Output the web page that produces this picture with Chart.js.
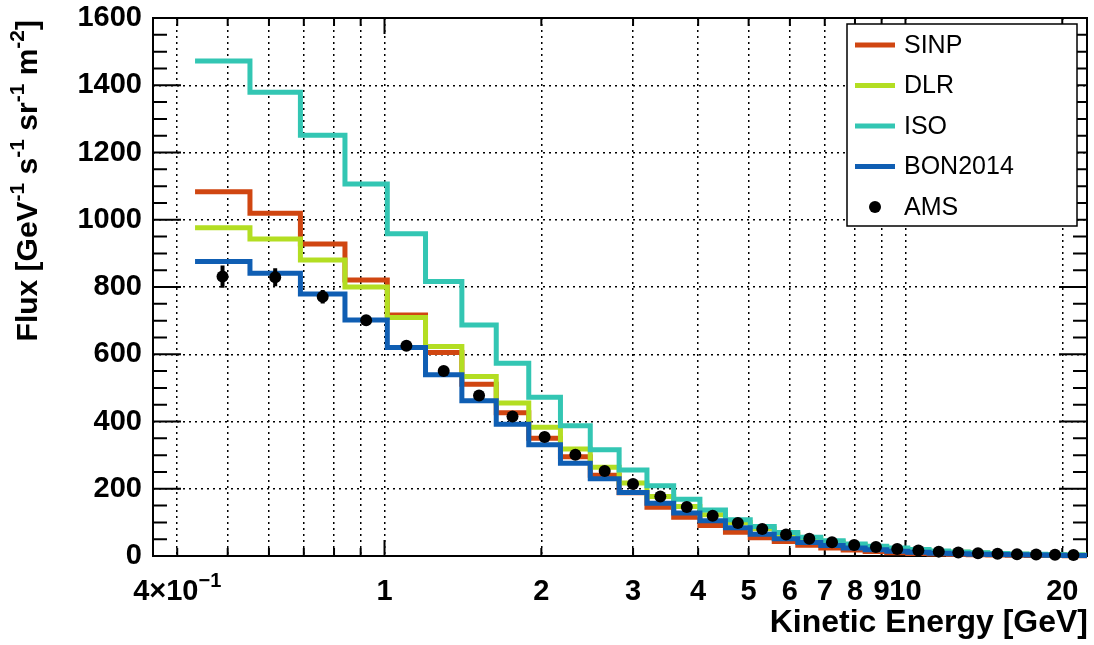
<!DOCTYPE html>
<html>
<head>
<meta charset="utf-8">
<script src="https://cdn.jsdelivr.net/npm/chart.js@4.4.1/dist/chart.umd.min.js"></script>
<style>
  html, body { margin: 0; padding: 0; background: #fff; }
  canvas { display: block; }
</style>
</head>
<body>
<canvas id="fluxChart" width="1094" height="645"></canvas>
<script>
// --- bin edges, kinetic energy [GeV] ---
const binEdges = [0.4328, 0.5517, 0.6895, 0.8396, 1.0124, 1.1987, 1.4076, 1.6386, 1.8918, 2.1764,
  2.4829, 2.8207, 3.1898, 3.5900, 4.0311, 4.5131, 5.0358, 5.5994, 6.2135, 6.8782, 7.5935, 8.3691,
  9.2052, 10.102, 11.098, 12.096, 13.193, 14.390, 15.688, 17.086, 18.584, 20.183, 21.881, 23.780];

// --- model fluxes, one value per bin ---
const sinpFlux = [1083, 1019, 928, 821, 717, 605, 511, 426, 350, 295, 240, 188, 145, 115, 91, 71, 54,
  43, 32, 24, 18, 13.5, 10, 7.7, 6, 4.6, 3.6, 2.8, 2.2, 1.7, 1.4, 1.1, 0.9];
const dlrFlux = [976, 943, 880, 800, 709, 623, 534, 455, 383, 318, 264, 217, 177, 147, 123, 100, 81,
  65, 52, 42, 33, 27, 21.5, 17, 13.5, 10.8, 8.6, 6.9, 5.5, 4.4, 3.6, 2.9, 2.4];
const isoFlux = [1472, 1379, 1251, 1106, 958, 816, 687, 573, 472, 387, 316, 256, 209, 169, 137, 108, 88,
  70, 56, 45, 36, 29, 23.5, 19, 15, 12, 9.6, 7.7, 6.2, 5, 4, 3.2, 2.6];
const bonFlux = [876, 841, 779, 702, 620, 539, 462, 392, 331, 276, 230, 189, 157, 128, 105, 84, 65,
  51, 40, 31, 24, 18.5, 14, 11, 8.5, 6.7, 5.3, 4.2, 3.4, 2.7, 2.2, 1.8, 1.5];

// --- AMS points ---
const amsEnergy = [0.4887, 0.6168, 0.7609, 0.9220, 1.1016, 1.2990, 1.5187, 1.7607, 2.0291, 2.3246,
  2.6464, 2.9996, 3.3841, 3.8042, 4.2653, 4.7673, 5.3101, 5.8985, 6.5374, 7.2271, 7.9719, 8.7772,
  9.6430, 10.588, 11.586, 12.632, 13.779, 15.025, 16.372, 17.820, 19.367, 21.015];
const amsFlux = [831, 829, 771, 701, 625, 550, 477, 415, 354, 301, 253, 214, 177, 146, 120, 98, 80,
  64, 51, 41, 33, 27, 21, 16.5, 13, 10.5, 8.3, 6.6, 5.3, 4.3, 3.5, 2.8];
const amsErr = [33, 27, 20, 14, 11, 9, 8, 7, 6, 5, 4, 4, 3, 3, 3, 2, 2, 2, 1.5, 1.5, 1, 1, 1, 1, 1,
  1, 1, 1, 0.8, 0.8, 0.8, 0.8];

// --- axes ---
const xTickValues = [0.4, 0.5, 0.6, 0.7, 0.8, 0.9, 1, 2, 3, 4, 5, 6, 7, 8, 9, 10, 20];
const xTickText = { 1: '1', 2: '2', 3: '3', 4: '4', 5: '5', 6: '6', 7: '7', 8: '8', 9: '9', 10: '10', 20: '20' };
const xMajor = [1, 10];
const yTickStep = 200;
const yMinorStep = 50;

const FONT = '"Liberation Sans", Arial, Helvetica, sans-serif';

// histogram -> points for a stepped line
function histPoints(values) {
  const pts = values.map((v, i) => ({ x: binEdges[i], y: v }));
  pts.push({ x: binEdges[values.length], y: values[values.length - 1] });
  return pts;
}

function histDataset(label, values, color, order) {
  return {
    label: label,
    data: histPoints(values),
    borderColor: color,
    backgroundColor: color,
    borderWidth: 5,
    stepped: true,
    pointRadius: 0,
    fill: false,
    borderJoinStyle: 'miter',
    borderCapStyle: 'butt',
    clip: { left: 5, top: 5, right: 0, bottom: 5 },
    order: order
  };
}

// text with superscripts: parts = [[text, isSup], ...]
function richWidth(ctx, parts, size) {
  let w = 0;
  parts.forEach(([t, sup]) => {
    ctx.font = `bold ${sup ? Math.round(size * 0.7) : size}px ${FONT}`;
    w += ctx.measureText(t).width;
  });
  return w;
}
function drawRich(ctx, parts, x, y, size) {
  parts.forEach(([t, sup]) => {
    ctx.font = `bold ${sup ? Math.round(size * 0.7) : size}px ${FONT}`;
    ctx.fillText(t, x, sup ? y - size * 0.45 : y);
    x += ctx.measureText(t).width;
  });
}

// --- frame + inward ticks (ROOT style) ---
const framePlugin = {
  id: 'frame',
  beforeDatasetsDraw(chart) {
    const { ctx, chartArea: a, scales: { x, y } } = chart;
    ctx.save();
    ctx.strokeStyle = '#000';
    ctx.lineWidth = 2;
    ctx.beginPath();
    for (let v = y.min; v <= y.max; v += yMinorStep) {
      const py = y.getPixelForValue(v);
      const len = v % yTickStep === 0 ? 28 : 14;
      ctx.moveTo(a.left, py); ctx.lineTo(a.left + len, py);
      ctx.moveTo(a.right, py); ctx.lineTo(a.right - len, py);
    }
    xTickValues.forEach(v => {
      const px = x.getPixelForValue(v);
      const len = xMajor.includes(v) ? 16 : 8;
      ctx.moveTo(px, a.bottom); ctx.lineTo(px, a.bottom - len);
      ctx.moveTo(px, a.top); ctx.lineTo(px, a.top + len);
    });
    ctx.stroke();
    ctx.strokeRect(a.left, a.top, a.right - a.left, a.bottom - a.top);
    ctx.restore();
  }
};

// --- AMS error bars ---
const errorBarPlugin = {
  id: 'errorBars',
  beforeDatasetDraw(chart, args) {
    if (chart.data.datasets[args.index].label !== 'AMS') return;
    const { ctx, scales: { y } } = chart;
    ctx.save();
    ctx.strokeStyle = '#000';
    ctx.lineWidth = 4;
    ctx.beginPath();
    args.meta.data.forEach((pt, i) => {
      ctx.moveTo(pt.x, y.getPixelForValue(amsFlux[i] + amsErr[i]));
      ctx.lineTo(pt.x, y.getPixelForValue(amsFlux[i] - amsErr[i]));
    });
    ctx.stroke();
    ctx.restore();
  }
};

// --- titles, special tick label and legend box ---
const decorPlugin = {
  id: 'decor',
  afterDraw(chart) {
    const { ctx, chartArea: a, scales: { x } } = chart;
    ctx.save();
    ctx.fillStyle = '#000';
    ctx.textBaseline = 'alphabetic';
    ctx.textAlign = 'left';

    // 4x10^-1 label
    const lab = [['4×10', 0], ['−1', 1]];
    const lw = richWidth(ctx, lab, 29);
    drawRich(ctx, lab, x.getPixelForValue(0.4) - lw / 2, 600, 29);

    // x title
    ctx.font = `bold 32px ${FONT}`;
    ctx.textAlign = 'right';
    ctx.fillText('Kinetic Energy [GeV]', a.right + 1, 632);

    // y title (rotated)
    ctx.textAlign = 'left';
    const yt = [['Flux [GeV', 0], ['-1', 1], [' s', 0], ['-1', 1], [' sr', 0], ['-1', 1], [' m', 0], ['-2', 1], [']', 0]];
    const tw = richWidth(ctx, yt, 30);
    ctx.save();
    ctx.translate(37, a.top + 2);
    ctx.rotate(-Math.PI / 2);
    drawRich(ctx, yt, -tw, 0, 30);
    ctx.restore();

    // legend
    const bx = 847, by = 24, bw = 230, bh = 202;
    ctx.fillStyle = '#fff';
    ctx.fillRect(bx, by, bw, bh);
    ctx.strokeStyle = '#000';
    ctx.lineWidth = 1.5;
    ctx.strokeRect(bx, by, bw, bh);
    ctx.font = `25px ${FONT}`;
    ctx.textBaseline = 'middle';
    chart.data.datasets.forEach((ds, i) => {
      const ey = by + 21 + i * 40.5;
      if (ds.label === 'AMS') {
        ctx.fillStyle = '#000';
        ctx.beginPath();
        ctx.arc(875, ey, 6, 0, Math.PI * 2);
        ctx.fill();
      } else {
        ctx.strokeStyle = ds.borderColor;
        ctx.lineWidth = 5;
        ctx.beginPath();
        ctx.moveTo(855, ey); ctx.lineTo(895, ey);
        ctx.stroke();
      }
      ctx.fillStyle = '#000';
      ctx.fillText(ds.label, 904, ey + 1);
    });
    ctx.restore();
  }
};

new Chart(document.getElementById('fluxChart'), {
  type: 'line',
  data: {
    datasets: [
      histDataset('SINP', sinpFlux, '#d04611', 5),
      histDataset('DLR', dlrFlux, '#b3de22', 4),
      histDataset('ISO', isoFlux, '#33c6b3', 3),
      histDataset('BON2014', bonFlux, '#0f5eb3', 2),
      {
        label: 'AMS',
        type: 'scatter',
        data: amsEnergy.map((e, i) => ({ x: e, y: amsFlux[i] })),
        backgroundColor: '#000',
        borderColor: '#000',
        pointRadius: 6,
        pointBorderWidth: 0,
        showLine: false,
        clip: 7,
        order: 1
      }
    ]
  },
  options: {
    responsive: false,
    devicePixelRatio: 1,
    animation: false,
    events: [],
    layout: { padding: { top: 18, right: 7, left: 0, bottom: 0 } },
    plugins: {
      legend: { display: false },
      tooltip: { enabled: false }
    },
    scales: {
      x: {
        type: 'logarithmic',
        min: 0.3594,
        max: 22.31,
        afterBuildTicks: scale => { scale.ticks = xTickValues.map(v => ({ value: v })); },
        afterFit: scale => {
          scale.height = 89;
          scale.paddingLeft = 0;
          scale.paddingRight = 0;
        },
        grid: { color: '#000', lineWidth: 1.5, drawTicks: false },
        border: { display: false, dash: [2, 4] },
        ticks: {
          autoSkip: false,
          maxRotation: 0,
          padding: 19,
          color: '#000',
          font: { family: FONT, size: 29, weight: 'bold' },
          callback: v => xTickText[v] || ''
        }
      },
      y: {
        min: 0,
        max: 1600,
        afterFit: scale => {
          scale.width = 153;
          scale.paddingTop = 0;
          scale.paddingBottom = 0;
        },
        grid: { color: '#000', lineWidth: 1.5, drawTicks: false },
        border: { display: false, dash: [2, 4] },
        ticks: {
          stepSize: yTickStep,
          padding: 11,
          color: '#000',
          font: { family: FONT, size: 29, weight: 'bold' },
          callback: v => String(v)
        }
      }
    }
  },
  plugins: [framePlugin, errorBarPlugin, decorPlugin]
});
</script>
</body>
</html>
